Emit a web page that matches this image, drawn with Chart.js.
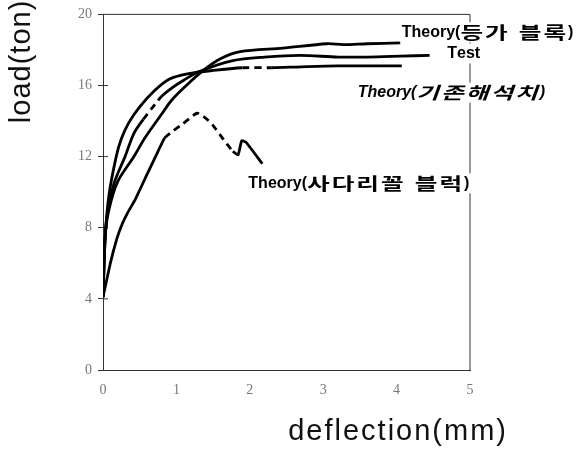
<!DOCTYPE html>
<html>
<head>
<meta charset="utf-8">
<script src="https://cdn.jsdelivr.net/npm/chart.js@4/dist/chart.umd.min.js"></script>
<style>
  html, body { margin: 0; padding: 0; background: #fff; }
  #wrap { width: 585px; height: 458px; }
</style>
</head>
<body>
<div id="wrap"><canvas id="myChart" width="585" height="458"></canvas></div>
<script>
// load - deflection curves (deflection in mm, load in ton)
var equivX = [0, 0.03, 0.08, 0.2, 0.42, 0.57, 0.8, 0.94, 1.16, 1.35, 1.6, 1.87, 2.45, 3.05, 3.27, 3.6, 4.05];
var equivY = [4.1, 7.5, 9.0, 10.6, 12.0, 13.05, 14.4, 15.2, 16.1, 16.8, 17.5, 17.9, 18.1, 18.35, 18.3, 18.35, 18.4];

var testX = [0, 0.03, 0.06, 0.15, 0.3, 0.42, 0.55, 0.7, 0.8, 0.95, 1.1, 1.32, 1.77, 2.2, 2.68, 3.2, 3.6, 4.05, 4.45];
var testY = [4.1, 7.5, 8.8, 10.5, 12.0, 13.3, 14.1, 14.9, 15.4, 15.9, 16.3, 16.8, 17.4, 17.6, 17.7, 17.6, 17.6, 17.65, 17.7];

var existX = [0, 0.03, 0.08, 0.18, 0.25, 0.35, 0.5, 0.7, 0.9, 1.15, 1.5, 1.9, 2.3, 2.7, 3.2, 3.6, 4.07];
var existY = [4.1, 7.5, 9.8, 12.0, 13.0, 13.9, 14.8, 15.7, 16.35, 16.65, 16.85, 17.0, 17.0, 17.05, 17.1, 17.1, 17.1];

var ladderX = [0, 0.1, 0.19, 0.26, 0.33, 0.44, 0.6, 0.75, 0.84, 0.94, 1.09, 1.28, 1.39, 1.49, 1.6, 1.69, 1.77, 1.84, 1.89, 1.95, 2.17];
var ladderY = [4.1, 6.0, 7.4, 8.2, 8.8, 9.6, 11.0, 12.3, 13.05, 13.4, 13.85, 14.45, 14.2, 13.8, 13.2, 12.7, 12.3, 12.1, 12.9, 12.8, 11.6];

var seriesNames = ['Theory(등가 블록)', 'Test', 'Theory(기존해석치)', 'Theory(사다리꼴 블럭)'];
var xTicks = [0, 1, 2, 3, 4, 5];
var yTicks = [0, 4, 8, 12, 16, 20];

function pts(xs, ys) {
	var out = [];
	for (var i = 0; i < xs.length; i++) out.push({x: xs[i], y: ys[i]});
	return out;
}

// dashed stretch of a curve, between two deflections
function dashBetween(a, b) {
	return function (ctx) {
		if (ctx.p0.parsed.x >= a && ctx.p1.parsed.x <= b) return [7, 5];
		return undefined;
	};
}

function curve(xs, ys, dash, tension) {
	return {
		data: pts(xs, ys),
		borderColor: '#000',
		borderWidth: 2.8,
		pointRadius: 0,
		fill: false,
		tension: tension,
		segment: {borderDash: dash}
	};
}

// text labels placed at data coordinates, next to the curve ends
var notes = [
	{text: seriesNames[0], x: 4.07, y: 19.0, italic: false},
	{text: seriesNames[1], x: 4.69, y: 17.8, italic: false},
	{text: seriesNames[2], x: 3.47, y: 15.6, italic: true},
	{text: seriesNames[3], x: 1.98, y: 10.5, italic: false}
];

// latin in Liberation Sans, hangul in a wider CJK face (like the scan)
function drawMixed(c, text, x, y, italic, paint) {
	var st = italic ? 'italic ' : '';
	var cx = x;
	for (var i = 0; i < text.length; i++) {
		var ch = text[i];
		if (/[\uac00-\ud7a3]/.test(ch)) {
			c.font = st + 'bold 17px "Noto Sans CJK KR"';
			var w = c.measureText(ch).width * 1.45;
			if (paint) {
				c.save();
				c.translate(cx, y);
				c.scale(1.45, 1);
				c.fillText(ch, 0, 0);
				c.restore();
			}
			cx += w + 2;
		} else if (ch === ' ') {
			cx += 9;
		} else {
			c.font = st + 'bold 16px "Liberation Sans"';
			if (paint) c.fillText(ch, cx, y);
			cx += c.measureText(ch).width;
		}
	}
	return cx - x;
}

var overlay = {
	id: 'overlay',
	beforeDatasetsDraw: function (chart) {
		var c = chart.ctx, a = chart.chartArea;
		c.save();
		c.strokeStyle = '#333';
		c.lineWidth = 1;
		c.beginPath();
		c.moveTo(a.left, a.top);
		c.lineTo(a.right, a.top);
		c.lineTo(a.right, a.bottom);
		c.stroke();
		// small inner halves of the y tick crosses
		var ys = chart.scales.y;
		for (var i = 1; i < yTicks.length - 1; i++) {
			var py = ys.getPixelForValue(yTicks[i]);
			c.beginPath();
			c.moveTo(a.left, py);
			c.lineTo(a.left + 5, py);
			c.stroke();
		}
		c.restore();
	},
	afterDraw: function (chart) {
		var c = chart.ctx, a = chart.chartArea;
		var sx = chart.scales.x, sy = chart.scales.y;
		c.save();
		c.textBaseline = 'middle';
		c.textAlign = 'left';
		notes.forEach(function (n) {
			var px = sx.getPixelForValue(n.x), py = sy.getPixelForValue(n.y);
			var w = drawMixed(c, n.text, px, py, n.italic, false);
			c.fillStyle = '#fff';
			c.fillRect(px - 2, py - 10, w + 4, 20);
			c.fillStyle = '#000';
			drawMixed(c, n.text, px, py, n.italic, true);
		});
		// axis titles
		c.font = '29px "Liberation Sans"';
		c.letterSpacing = '2px';
		c.fillStyle = '#111';
		c.textAlign = 'right';
		c.fillText('deflection(mm)', a.right + 38, a.bottom + 62);
		c.letterSpacing = '1px';
		c.translate(a.left - 81, a.top + 47);
		c.rotate(-Math.PI / 2);
		c.textAlign = 'center';
		c.fillText('load(ton)', 0, 0);
		c.restore();
	}
};

var ctx = document.getElementById('myChart').getContext('2d');
new Chart(ctx, {
	type: 'line',
	data: {
		datasets: [
			curve(equivX, equivY, undefined, 0.3),
			curve(testX, testY, dashBetween(0.55, 0.8), 0.3),
			curve(existX, existY, dashBetween(1.9, 2.3), 0.3),
			curve(ladderX, ladderY, dashBetween(0.84, 1.8), 0.15)
		]
	},
	options: {
		responsive: false,
		animation: false,
		layout: {padding: {left: 0, right: 115, top: 14, bottom: 0}},
		plugins: {legend: {display: false}, tooltip: {enabled: false}},
		scales: {
			x: {
				type: 'linear',
				min: 0,
				max: 5,
				afterFit: function (s) { s.height = 88; },
				afterBuildTicks: function (s) { s.ticks = xTicks.map(function (v) { return {value: v}; }); },
				grid: {drawOnChartArea: false, drawTicks: false},
				border: {color: '#333', width: 1},
				ticks: {color: '#777', padding: 12, font: {family: 'Liberation Serif', size: 14}}
			},
			y: {
				min: 0,
				max: 20,
				afterFit: function (s) { s.width = 103; },
				afterBuildTicks: function (s) { s.ticks = yTicks.map(function (v) { return {value: v}; }); },
				grid: {drawOnChartArea: false, tickLength: 5, color: '#333'},
				border: {color: '#333', width: 1},
				ticks: {color: '#777', padding: 6, font: {family: 'Liberation Serif', size: 14}}
			}
		}
	},
	plugins: [overlay]
});
</script>
</body>
</html>
